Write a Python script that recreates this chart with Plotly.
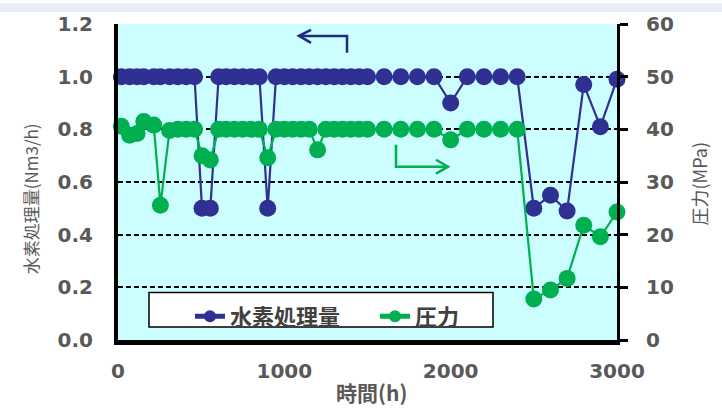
import plotly.graph_objects as go

# Operating hours (h)
hours = [20, 70, 115, 155, 215, 255, 310, 360, 410, 460,
         505, 555,
         605, 650, 700, 750, 800, 850,
         900,
         950, 1000, 1050, 1100, 1150,
         1200,
         1250, 1300, 1350, 1400, 1450, 1500,
         1600, 1700, 1800, 1900,
         2000,
         2100, 2200, 2300, 2400,
         2500, 2600, 2700, 2800, 2900, 3000]

# Hydrogen throughput (Nm3/h), left axis
h2_flow = [1.0] * 10 + [0.5, 0.5] + [1.0] * 6 + [0.5] + [1.0] * 16 + [0.9] + [1.0] * 4 + \
          [0.5, 0.55, 0.49, 0.97, 0.81, 0.99]

# Pressure (MPa), right axis
pressure = [40.6, 38.9, 39.2, 41.5, 40.8, 25.6, 39.8, 40, 40, 40,
            35.0, 34.2,
            40, 40, 40, 40, 40, 40,
            34.6,
            40, 40, 40, 40, 40,
            36.1,
            40, 40, 40, 40, 40, 40,
            40, 40, 40, 40,
            38.0,
            40, 40, 40, 40,
            7.8, 9.5, 11.7, 21.8, 19.6, 24.3]

x_ticks = [0, 1000, 2000, 3000]
y_ticks = [0.0, 0.2, 0.4, 0.6, 0.8, 1.0, 1.2]
y2_ticks = [0, 10, 20, 30, 40, 50, 60]

BLUE = "#2e3192"
GREEN = "#00b050"
GRAY = "#595959"
NUM_FONT = "DejaVu Sans"
JP_FONT = "Noto Sans CJK JP"

fig = go.Figure()
fig.add_trace(go.Scatter(
    x=hours, y=h2_flow, name="水素処理量", mode="lines+markers",
    line=dict(color=BLUE, width=2.2),
    marker=dict(color=BLUE, size=17), cliponaxis=False, yaxis="y"))
fig.add_trace(go.Scatter(
    x=hours, y=pressure, name="圧力", mode="lines+markers",
    line=dict(color=GREEN, width=2.2),
    marker=dict(color=GREEN, size=17), cliponaxis=False, yaxis="y2"))

L, R, T, B = 118, 105, 21, 68
W, H = 722, 408
PW, PH = W - L - R, H - T - B


def px(xp):
    return (xp - L) / PW


def py(yp):
    return (H - B - yp) / PH


shapes = [
    # thin band across the top of the page
    dict(type="rect", xref="paper", yref="paper", x0=px(0), x1=px(W),
         y0=py(9), y1=py(0), fillcolor="#e8ecf5", line=dict(width=0), layer="below"),
    # legend frame
    dict(type="rect", xref="paper", yref="paper", x0=px(149), x1=px(493),
         y0=py(327), y1=py(292), fillcolor="white",
         line=dict(color="black", width=1.5), layer="above"),
    # left-pointing arrow (hydrogen -> left axis)
    dict(type="path", xref="paper", yref="paper",
         path=f"M {px(347)} {py(50)} L {px(347)} {py(33)} L {px(299)} {py(33)}",
         line=dict(color="#1f2a78", width=2.5)),
    dict(type="path", xref="paper", yref="paper",
         path=f"M {px(311)} {py(27)} L {px(299)} {py(33)} L {px(311)} {py(40)}",
         line=dict(color="#1f2a78", width=2.5)),
    # right-pointing arrow (pressure -> right axis)
    dict(type="path", xref="paper", yref="paper",
         path=f"M {px(396)} {py(143)} L {px(396)} {py(165)} L {px(448)} {py(165)}",
         line=dict(color=GREEN, width=2.5)),
    dict(type="path", xref="paper", yref="paper",
         path=f"M {px(436)} {py(158)} L {px(448)} {py(165)} L {px(436)} {py(172)}",
         line=dict(color=GREEN, width=2.5)),
]

annotations = [
    dict(text="水素処理量(Nm3/h)", xref="paper", yref="paper", x=px(30), y=py(198),
         xanchor="center", yanchor="middle",
         showarrow=False, textangle=-90, font=dict(family=JP_FONT, size=17, color=GRAY)),
    dict(text="圧力(MPa)", xref="paper", yref="paper", x=px(699), y=py(183),
         xanchor="center", yanchor="middle",
         showarrow=False, textangle=-90, font=dict(family=JP_FONT, size=18, color=GRAY)),
    dict(text="<b>時間(h)</b>", xref="paper", yref="paper", x=px(371), y=py(392),
         xanchor="center", yanchor="middle",
         showarrow=False, font=dict(family=JP_FONT, size=21, color=GRAY)),
]

fig.update_layout(
    width=W, height=H,
    margin=dict(l=L, r=R, t=T, b=B),
    paper_bgcolor="white",
    plot_bgcolor="#ccfdff",
    showlegend=True,
    legend=dict(orientation="h", x=px(190), y=py(295), xanchor="left", yanchor="top",
                bgcolor="rgba(0,0,0,0)", borderwidth=0, itemsizing="constant",
                entrywidth=140,
                font=dict(family=JP_FONT, size=22, color="#404040", weight="bold")),
    xaxis=dict(range=[0, 3000], tickvals=x_ticks, showgrid=False, zeroline=False,
               showline=True, linecolor="black", linewidth=5,
               ticks="outside", ticklen=9, tickcolor="rgba(0,0,0,0)",
               tickfont=dict(family=NUM_FONT, size=20, color=GRAY, weight="bold")),
    yaxis=dict(range=[0, 1.2], tickvals=y_ticks, tickformat=".1f",
               showgrid=True, gridcolor="black", gridwidth=1.5, griddash="5px,3px",
               zeroline=False, showline=True, linecolor="black", linewidth=4,
               ticks="outside", ticklen=17, tickcolor="rgba(0,0,0,0)",
               tickfont=dict(family=NUM_FONT, size=20, color=GRAY, weight="bold")),
    yaxis2=dict(range=[0, 60], tickvals=y2_ticks, overlaying="y", side="right",
                showgrid=False, zeroline=False, showline=True, linecolor="black",
                linewidth=3, ticks="outside", ticklen=8, tickwidth=3, tickcolor="black",
                ticklabelstandoff=14,
                tickfont=dict(family=NUM_FONT, size=20, color=GRAY, weight="bold")),
    shapes=shapes,
    annotations=annotations,
)

fig.write_html("out.html")
